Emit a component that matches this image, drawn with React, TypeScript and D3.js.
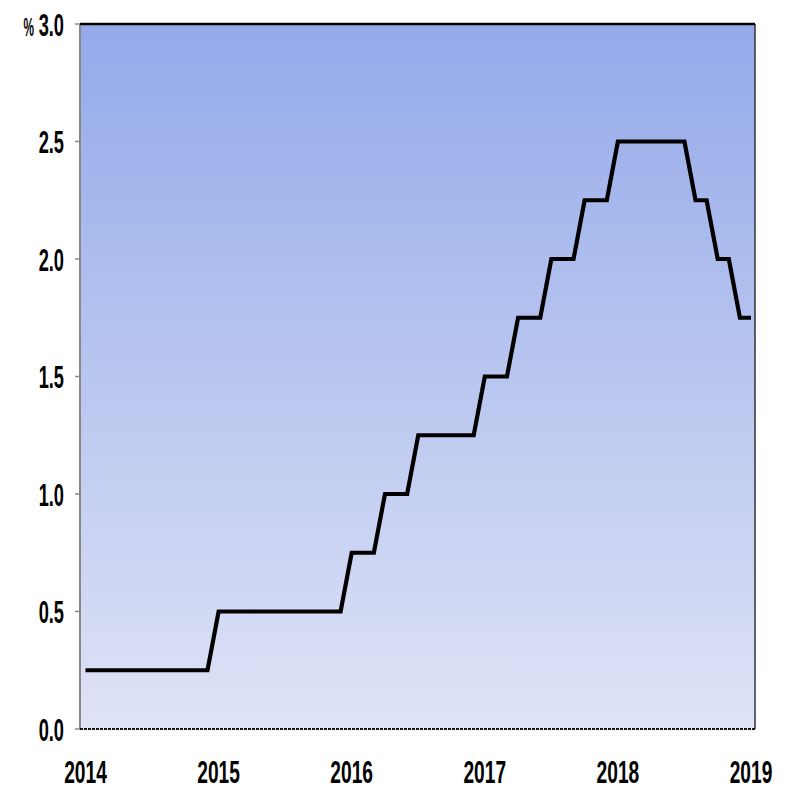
import React from "react";
import * as d3 from "d3";

const yearLabels = ["2014", "2015", "2016", "2017", "2018", "2019"];
const yTicks = [0, 0.5, 1.0, 1.5, 2.0, 2.5, 3.0];
// monthly values, Dec 2014 .. Dec 2019 (61 points)
const rateValues = [
  0.25, 0.25, 0.25, 0.25, 0.25, 0.25, 0.25, 0.25, 0.25, 0.25, 0.25, 0.25,
  0.5, 0.5, 0.5, 0.5, 0.5, 0.5, 0.5, 0.5, 0.5, 0.5, 0.5, 0.5,
  0.75, 0.75, 0.75, 1.0, 1.0, 1.0, 1.25, 1.25, 1.25, 1.25, 1.25, 1.25,
  1.5, 1.5, 1.5, 1.75, 1.75, 1.75, 2.0, 2.0, 2.0, 2.25, 2.25, 2.25,
  2.5, 2.5, 2.5, 2.5, 2.5, 2.5, 2.5, 2.25, 2.25, 2.0, 2.0, 1.75, 1.75,
];

const W = 787, H = 790;
const L = 80, R = 755, T = 24, B = 729;

export default function App() {
  const x = d3.scaleLinear().domain([0, 60]).range([85.5, 751]);
  const y = d3.scaleLinear().domain([0, 3]).range([B, T]);
  const line = d3.line<number>().x((_, i) => x(i)).y((d) => y(d));
  const font = "'Liberation Sans', Arial, sans-serif";
  const sx = 0.57;
  return (
    <svg width={W} height={H} style={{ position: "absolute", left: 0, top: 0 }}>
      <defs>
        <linearGradient id="bg" x1="0" y1="0" x2="0" y2="1">
          <stop offset="0" stopColor="#93a9e9" />
          <stop offset="1" stopColor="#dfe3f6" />
        </linearGradient>
      </defs>
      <rect x={L} y={T} width={R - L} height={B - T} fill="url(#bg)" />
      <line x1={L} x2={L} y1={T} y2={B} stroke="#888" strokeWidth={2} />
      <line x1={R} x2={R} y1={T} y2={B} stroke="#333" strokeWidth={1.5} />
      <line x1={L} x2={R} y1={T} y2={T} stroke="#000" strokeWidth={2.5} />
      <line x1={L} x2={R} y1={B} y2={B} stroke="#111" strokeWidth={2} strokeDasharray="3,1" />
      {yTicks.map((t) => (
        <g key={t}>
          <line x1={L - 5} x2={L} y1={y(t)} y2={y(t)} stroke="#888" strokeWidth={1.5} />
          <text
            transform={`translate(64,${y(t) + 11.5}) scale(${sx},1)`}
            textAnchor="end"
            fontFamily={font}
            fontWeight="bold"
            fontSize={32}
            fill="#000"
          >
            {t.toFixed(1)}
          </text>
        </g>
      ))}
      <text
        transform={`translate(34,${y(3) + 11.5}) scale(0.42,0.95)`}
        textAnchor="end"
        fontFamily={font}
        fontWeight="bold"
        fontSize={28}
        fill="#000"
      >
        %
      </text>
      {yearLabels.map((lab, i) => (
        <text
          key={lab}
          transform={`translate(${x(i * 12)},783) scale(0.6,1)`}
          textAnchor="middle"
          fontFamily={font}
          fontWeight="bold"
          fontSize={32}
          fill="#000"
        >
          {lab}
        </text>
      ))}
      <path
        d={line(rateValues) || ""}
        fill="none"
        stroke="#000"
        strokeWidth={4.2}
        strokeLinejoin="miter"
      />
    </svg>
  );
}
